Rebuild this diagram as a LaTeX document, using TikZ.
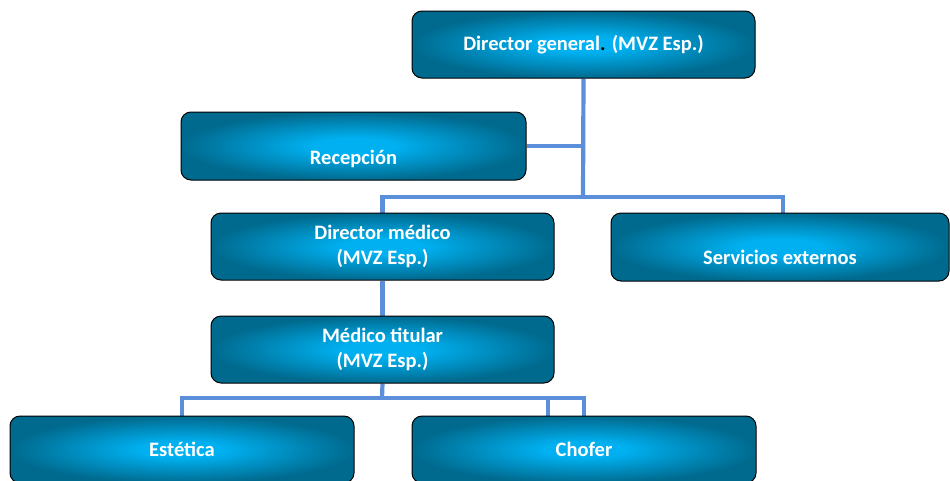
\documentclass[tikz,border=0pt]{standalone}
\usepackage{fontspec}
\setmainfont{Carlito}
\usetikzlibrary{backgrounds}

\definecolor{glowin}{HTML}{00B0F0}
\definecolor{glowout}{HTML}{006A8E}
\definecolor{linkblue}{HTML}{5B8FDA}
\pgfdeclareradialshading{boxglow}{\pgfpoint{0bp}{0bp}}{color(0bp)=(glowin); color(6bp)=(glowin); color(25bp)=(glowout); color(50bp)=(glowout)}

\begin{document}
\begin{tikzpicture}[x=1pt, y=-1pt, nodes = {align = center}]

  \tikzstyle{unit}=[draw=black, line width=1pt, rounded corners=10pt, shade, shading=boxglow, text=white, font=\bfseries\fontsize{20.5}{24.5}\selectfont, minimum width=343pt, minimum height=67pt, inner sep=0pt]
  \tikzstyle{link}=[draw=linkblue, line width=4.2pt]

  \useasboundingbox (0,0) rectangle (950,480);
  \clip (0,0) rectangle (950,480);

  \node[unit] (dirgen) at (583.5,44.5) {Director general{\color{black}.} (MVZ Esp.)};
  \node[unit, minimum width=345pt, minimum height=68pt] (recep) at (353.5,146) {\\[16pt]Recepción};
  \node[unit] (dirmed) at (382.5,246.5) {Director médico\\(MVZ Esp.)};
  \node[unit, minimum width=338pt, minimum height=68pt] (servext) at (780,247) {\\[10pt]Servicios externos};
  \node[unit] (medtit) at (382.5,349.5) {Médico titular\\(MVZ Esp.)};
  \node[unit, minimum width=344pt] (estet) at (182,449.5) {Estética};
  \node[unit, minimum width=344pt] (chofer) at (584,449.5) {Chofer};

  \coordinate (hub) at (583,197);
  \coordinate (split) at (382,398);
  \coordinate (stub) at (548,398);

  \begin{scope}[on background layer]
    \draw[link] (dirgen.south) -- (hub);
    \draw[link] (recep.east) -- (recep.east -| hub);
    \draw[link] (dirmed.north) |- (hub) -| ([xshift=3pt]servext.north);
    \draw[link] (dirmed) -- (medtit);
    \draw[link] (medtit.south) -- (split);
    \draw[link] (estet.north) |- (split) -| (chofer.north);
    \draw[link] (stub) -- (stub |- chofer.north);
  \end{scope}
\end{tikzpicture}
\end{document}
